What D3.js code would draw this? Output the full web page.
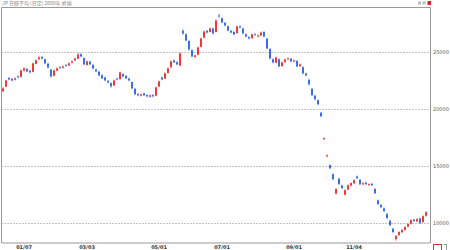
<!DOCTYPE html>
<meta charset="utf-8">
<style>
body { margin: 0; background: #fff; }
svg { display: block; }
.grid line { stroke: #888; stroke-dasharray: 1,2; }
.ylab text { font: 5px "DejaVu Sans", sans-serif; fill: #555; }
.xlab text { font: bold 5px "DejaVu Sans", sans-serif; fill: #333; }
</style>
<svg width="450" height="250"></svg>
<script src="https://d3js.org/d3.v7.min.js"></script>
<script>

// daily candles, oldest first
var opens = [21600,22000,22750,22680,22600,22900,22850,23400,23550,23400,
	23300,24000,24400,24600,24400,24000,23500,22950,23400,23700,
	23650,23900,23850,24100,24300,24450,24850,24500,23900,24200,
	23900,23500,23300,23000,22800,22500,22300,22100,22700,22650,
	23100,22950,22700,22400,21800,21350,21200,21400,21250,21100,
	21250,21200,22000,22800,22700,23200,23700,24300,24150,23850,
	26900,26600,26000,25200,24600,24800,25500,26300,26900,26800,
	27100,26800,28250,28000,27600,27300,26900,26800,26700,27300,
	27100,26600,26350,26250,26600,26400,26500,26800,26200,25300,
	24400,24100,24400,23800,24150,24400,24450,24200,24250,23800,
	23700,23150,22600,21800,21200,20800,19700,17380,15880,15100,
	14300,12600,13900,13300,12500,12950,13300,13500,14100,13800,
	13400,13550,13350,13450,13000,12000,11600,11300,10800,10200,
	9500,8600,8950,9200,9400,9700,9950,10300,10150,10400,
	10100,10650]
var closes = [21840,22540,22630,22540,22720,22810,23420,23600,23330,23250,
	24040,24300,24560,24470,24040,23680,22900,23420,23600,23680,
	23770,23860,24040,24210,24470,24820,24650,23950,24210,23950,
	23600,23330,22980,22720,22540,22370,22020,22540,22630,23250,
	22900,22720,22540,21840,21320,21230,21320,21230,21140,21230,
	21140,21930,22460,22630,23160,23600,24210,24120,23950,24910,
	26670,26050,25260,24650,24740,25440,26230,26840,26750,27110,
	26670,27810,28160,27630,27370,26930,26750,26580,27280,27190,
	26670,26400,26230,26580,26580,26490,26750,26400,25350,24470,
	24120,24560,23770,24120,24390,24470,24210,24300,23770,23950,
	23160,22980,22190,21230,20880,20440,19390,17460,15960,14820,
	13860,12980,13420,13070,12890,13330,13510,13770,13950,13420,
	13510,13420,13420,13330,12630,11670,11400,11050,10440,9820,
	9210,8860,9210,9390,9650,9910,10260,10180,10350,10000,
	10610,10960]
var highs = [21950,22600,22850,22750,22800,22980,23500,23700,23620,23480,
	24100,24400,24700,24680,24450,24080,23550,23480,23680,23800,
	23850,23980,24120,24300,24550,24950,24920,24560,24300,24260,
	23980,23580,23380,23080,22870,22580,22380,22620,22780,23320,
	23180,23020,22780,22450,21880,21420,21400,21480,21320,21300,
	21330,22000,22530,22880,23240,23680,24300,24380,24230,25000,
	27050,26680,26080,25280,24820,25520,26300,26920,26980,27190,
	27180,27900,28420,28080,27680,27380,26980,26880,27360,27380,
	27180,26680,26430,26660,26680,26570,26830,26880,26280,25380,
	24480,24640,24480,24200,24470,24550,24530,24380,24330,24030,
	23780,23230,22680,21880,21280,20880,19780,17540,16040,15180,
	14380,13100,13980,13380,12970,13410,13590,13850,14180,13880,
	13590,13630,13500,13530,13080,12080,11680,11380,10880,10280,
	9580,8950,9290,9470,9730,9990,10340,10380,10430,10480,
	10690,11040]
var lows = [21500,21950,22550,22450,22520,22700,22800,23320,23250,23150,
	23250,23950,24350,24380,23950,23600,22800,22880,23350,23580,
	23580,23750,23800,24020,24250,24400,24580,23880,23850,23880,
	23520,23250,22900,22650,22480,22280,21900,22050,22540,22600,
	22820,22650,22460,21760,21250,21150,21120,21160,21060,21030,
	21060,21150,21940,22560,22650,23130,23650,24050,23880,23780,
	26550,25980,25180,24570,24520,24740,25440,26240,26680,26740,
	26600,26750,28050,27560,27300,26860,26680,26500,26640,27110,
	26600,26320,26150,26180,26500,26320,26430,26330,25280,24400,
	24040,24030,23700,23730,24080,24320,24140,24120,23700,23720,
	23080,22900,22120,21150,20800,20360,19320,17300,15800,14740,
	13780,12500,13350,12990,12420,12880,13220,13420,13870,13340,
	13320,13340,13270,13250,12550,11590,11320,10970,10360,9740,
	9130,8450,8870,9120,9320,9620,9870,10100,10070,9920,
	10020,10570]

var gridValues = [25000, 20000, 15000, 10000]
var tickIndex = [7, 28, 52, 73, 97, 117]
var tickLabels = ["01/07", "03/03", "05/01", "07/01", "09/01", "11/04"]

var upColor = "#f03838"
var downColor = "#3a6cf0"

var svg = d3.select("svg")

var plotLeft = 1.5, plotRight = 430.5, plotTop = 7.5, plotBottom = 243

var x = d3.scalePoint()
	.domain(d3.range(closes.length))
	.range([3, 426])

var y = d3.scaleLinear()
	.domain([8250, 28950])
	.range([plotBottom, plotTop])

// title
svg.append("text")
	.attr("x", 2)
	.attr("y", 5)
	.style("font", "5px 'Noto Sans CJK JP', sans-serif")
	.style("fill", "#888")
	.text("JP 日経平均 (日足) 2008年 終値")

// top right buttons
svg.append("rect").attr("x", 418).attr("y", 1.5).attr("width", 3).attr("height", 3).attr("fill", "#bbb")
svg.append("rect").attr("x", 422.5).attr("y", 1.5).attr("width", 3).attr("height", 3).attr("fill", "#bbb")
svg.append("rect").attr("x", 427.5).attr("y", 1).attr("width", 3.5).attr("height", 4).attr("fill", "#e02020")

// dotted grid
var grid = svg.append("g").attr("class", "grid")
grid.selectAll("line")
	.data(gridValues)
	.enter().append("line")
	.attr("x1", plotLeft)
	.attr("x2", plotRight)
	.attr("y1", function (d) { return Math.round(y(d)) + 0.5 })
	.attr("y2", function (d) { return Math.round(y(d)) + 0.5 })

// frame
svg.append("path")
	.attr("d", "M" + plotLeft + "," + plotBottom + "V" + plotTop + "H" + plotRight + "V" + plotBottom + "H" + plotLeft)
	.attr("fill", "none")
	.attr("stroke", "#999")

// right axis labels
svg.append("g").attr("class", "ylab")
	.selectAll("text")
	.data(gridValues)
	.enter().append("text")
	.attr("x", 433)
	.attr("y", function (d) { return y(d) + 2 })
	.text(function (d) { return d })

// bottom labels
svg.append("g").attr("class", "xlab")
	.selectAll("text")
	.data(tickIndex)
	.enter().append("text")
	.attr("x", function (d) { return x(d) })
	.attr("y", 249)
	.attr("text-anchor", "middle")
	.text(function (d, i) { return tickLabels[i] })

// candles
var candles = svg.append("g")
	.selectAll("g")
	.data(d3.range(closes.length))
	.enter().append("g")

candles.append("line")
	.attr("x1", function (i) { return x(i) })
	.attr("x2", function (i) { return x(i) })
	.attr("y1", function (i) { return y(highs[i]) })
	.attr("y2", function (i) { return y(lows[i]) })
	.attr("stroke", function (i) { return closes[i] >= opens[i] ? upColor : downColor })
	.attr("stroke-width", 0.7)

candles.append("rect")
	.attr("x", function (i) { return x(i) - 1 })
	.attr("width", 2)
	.attr("y", function (i) { return y(Math.max(opens[i], closes[i])) })
	.attr("height", function (i) { return Math.max(1, Math.abs(y(opens[i]) - y(closes[i]))) })
	.attr("fill", function (i) { return closes[i] >= opens[i] ? upColor : downColor })

// bottom right icon
svg.append("rect").attr("x", 433.5).attr("y", 244.5).attr("width", 8).attr("height", 6)
	.attr("fill", "none").attr("stroke", "#e03030")
svg.append("path").attr("d", "M443.5,244.5H446.5V250").attr("fill", "none").attr("stroke", "#999")

</script>
